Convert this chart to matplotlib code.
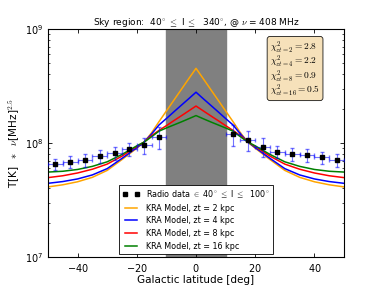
import numpy as np
import matplotlib
matplotlib.use('Agg')
import matplotlib.pyplot as plt

plt.rcParams.update({
    'font.family': 'DejaVu Sans',
    'mathtext.fontset': 'cm',
    'axes.formatter.use_mathtext': True,
    'xtick.direction': 'in',
    'ytick.direction': 'in',
    'xtick.top': True,
    'ytick.right': True,
    'xtick.major.size': 3,
    'ytick.major.size': 3,
    'ytick.minor.size': 1.5,
    'xtick.major.width': 0.6,
    'ytick.major.width': 0.6,
    'ytick.minor.width': 0.5,
    'axes.linewidth': 0.8,
})

# radio data (5 deg latitude bins), values in K * MHz^2.5
lat_data = [-47.5, -42.5, -37.5, -32.5, -27.5, -22.5, -17.5, -12.5,
            12.5, 17.5, 22.5, 27.5, 32.5, 37.5, 42.5, 47.5]
radio = np.array([6.5, 6.85, 7.1, 7.7, 8.2, 8.9, 9.6, 11.4,
                  11.9, 10.6, 9.3, 8.4, 8.0, 7.8, 7.5, 7.05]) * 1e7
radio_err = np.array([0.72, 0.82, 0.92, 1.0, 1.07, 1.15, 1.55, 2.5,
                      2.4, 2.1, 1.75, 1.0, 1.0, 0.98, 0.9, 0.92]) * 1e7

# model profiles vs |b| (symmetric in latitude), units of 1e8
lat_model = [0, 2.5, 5, 7.5, 10, 12.5, 15, 17.5, 20, 25, 30, 35, 40, 45, 50]
kra_zt2 = [4.52, 3.65, 2.94, 2.37, 1.91, 1.54, 1.23, 1.02, 0.90, 0.716, 0.575, 0.50, 0.457, 0.43, 0.412]
kra_zt4 = [2.79, 2.44, 2.14, 1.875, 1.64, 1.44, 1.20, 1.02, 0.912, 0.733, 0.596, 0.525, 0.484, 0.459, 0.443]
kra_zt8 = [2.11, 1.91, 1.73, 1.57, 1.42, 1.29, 1.16, 1.02, 0.933, 0.767, 0.653, 0.589, 0.546, 0.516, 0.497]
kra_zt16 = [1.74, 1.63, 1.53, 1.44, 1.355, 1.27, 1.135, 1.02, 0.944, 0.794, 0.684, 0.624, 0.586, 0.565, 0.556]

chi2 = {2: 2.8, 4: 2.2, 8: 0.9, 16: 0.5}


def main():
    fig = plt.figure(figsize=(3.82, 2.86), dpi=100)
    ax = fig.add_axes([0.1257, 0.1014, 0.7748, 0.7972])

    ax.axvspan(-10, 10, color='gray', zorder=0)

    b = np.array(lat_model)
    lat_full = np.concatenate([-b[::-1], b[1:]])
    for prof, c, zt in zip([kra_zt2, kra_zt4, kra_zt8, kra_zt16],
                           ['orange', 'b', 'r', 'g'], [2, 4, 8, 16]):
        p = np.array(prof) * 1e8
        ax.plot(lat_full, np.concatenate([p[::-1], p[1:]]), color=c, lw=1.1,
                label='KRA Model, zt = %d kpc' % zt, zorder=2)

    ax.errorbar(lat_data, radio, yerr=radio_err, xerr=2.5, fmt='none',
                ecolor='b', alpha=0.55, elinewidth=0.8, capsize=1.5, zorder=3)
    ax.plot(lat_data, radio, 'ks', ms=3.4, zorder=4,
            label=r'Radio data $\in$ 40$^{\circ}$ $\leq$ l $\leq$  100$^{\circ}$')

    ax.set_yscale('log')
    ax.set_xlim(-50, 50)
    ax.set_ylim(1e7, 1e9)
    ax.set_xticks([-40, -20, 0, 20, 40])
    ax.tick_params(labelsize=7)
    ax.set_xlabel('Galactic latitude [deg]', fontsize=7.5, labelpad=1)
    ax.set_ylabel(r'T[K] $\ \ast\ \ \nu$[MHz]$^{2.5}$', fontsize=7.5, labelpad=2)
    ax.set_title(r'Sky region:  40$^{\circ}$ $\leq$ l $\leq$  340$^{\circ}$, @ $\nu$ = 408 MHz',
                 fontsize=6.5, pad=3)

    txt = '\n'.join([r'$\chi^2_{zt=%d} = %.1f$' % (k, v) for k, v in chi2.items()])
    ax.text(0.75, 0.955, txt, transform=ax.transAxes, fontsize=6.8, va='top', ha='left',
            linespacing=0.85,
            bbox=dict(boxstyle='round,pad=0.3', facecolor='wheat', edgecolor='k', lw=0.6, alpha=0.9))

    handles, labels = ax.get_legend_handles_labels()
    order = [4, 0, 1, 2, 3]
    leg = ax.legend([handles[i] for i in order], [labels[i] for i in order],
                    loc='lower center', fontsize=5.8, numpoints=2, fancybox=False,
                    framealpha=1, edgecolor='k', handlelength=2.2, borderaxespad=0.4,
                    labelspacing=0.45)
    leg.get_frame().set_linewidth(0.6)

    fig.savefig('out.png', dpi=100, facecolor='white')


if __name__ == '__main__':
    main()
